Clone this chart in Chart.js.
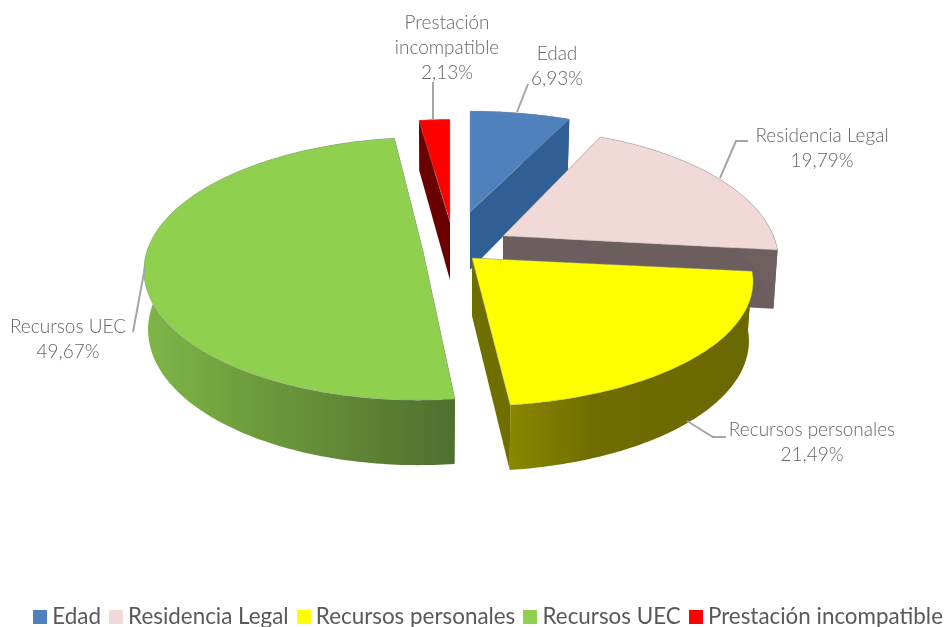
<!DOCTYPE html>
<html><head><meta charset="utf-8">
<style>html,body{margin:0;padding:0;background:#fff;overflow:hidden}canvas{display:block}</style>
<script src="https://cdn.jsdelivr.net/npm/chart.js@4"></script>
</head><body><canvas id="c" width="944" height="627"></canvas>
<script>
const categories = ['Edad','Residencia Legal','Recursos personales','Recursos UEC','Prestación incompatible'];
const values = [6.93,19.79,21.49,49.67,2.13];
const colors = ['#4f81bd','#f0d9d7','#ffff00','#8fd04f','#ff0000'];
const labelLines = [['Edad'],['Residencia Legal'],['Recursos personales'],['Recursos UEC'],['Prestación','incompatible']];

// presentation only: how each slice is pulled out and shaded
const PIE_X = 462, PIE_Y = 245, DEPTH = 58, DEPTH_VAR = 7;
const slices = [
  {dx:8,  dy:-33, a:120, p:.19,  rx:1,   sk:0, face:'#2f5f95', wall:['#2f5f95','#2f5f95','#2f5f95']},
  {dx:41, dy:-9,  a:128, p:.19,  rx:.98, sk:0, face:'#6c5d5e', wall:['#6f6060','#6f6060','#6f6060']},
  {dx:10, dy:13,  a:120, p:.19,  rx:1,   sk:0, face:'#6f6f00', wall:['#8a8600','#6f6d00','#6a6800']},
  {dx:-39,dy:6,   a:129, p:.135, rx:1,   sk:4, face:'#4f6f2e', wall:['#7fb648','#6d9c3c','#4f6f2e']},
  {dx:-12,dy:-23, a:122, p:.19,  rx:1,   sk:0, face:'#6b0000', wall:['#6b0000','#6b0000','#6b0000']}
];
const drawOrder = [0,1,4,3,2];
const labelAt = [[557,54],[822,136],[812,430],[68,327],[447,23]];
const leaders = [
  [[528,84],[517,112]],
  [[748,141],[736,141],[720,178]],
  [[726,437],[713,437],[687,421]],
  [[133,332],[145,267]],
  [[433,82],[433,119]]
];

function pt(i, R, ang, bottom){
  const s = slices[i], u = Math.cos(ang), v = -Math.sin(ang), w = 1 + s.p*v;
  let X = R*s.rx*u/w + s.sk*v, Y = -s.a*v/w;
  if (bottom){ X *= .985; Y += DEPTH - DEPTH_VAR*v; }
  return [PIE_X + s.dx + X, PIE_Y + s.dy + Y];
}
function apex(i, bottom){
  const s = slices[i];
  return [PIE_X + s.dx, PIE_Y + s.dy + (bottom ? DEPTH : 0)];
}
function poly(ctx, pts, fill, stroke){
  ctx.beginPath();
  pts.forEach((p,k)=> k ? ctx.lineTo(p[0],p[1]) : ctx.moveTo(p[0],p[1]));
  ctx.closePath();
  ctx.fillStyle = fill; ctx.fill();
  if (stroke){ ctx.strokeStyle = stroke; ctx.lineWidth = .8; ctx.stroke(); }
}
function arcPts(i, R, a0, a1, bottom){
  const out = [], n = Math.max(8, Math.ceil((a1-a0)*60));
  for (let k=0;k<=n;k++) out.push(pt(i,R,a0+(a1-a0)*k/n,bottom));
  return out;
}
const pie3d = {
  id:'pie3d',
  afterLayout(chart){
    const l = chart.legend;
    if (l){ l.top += 11; l.bottom += 11; l.left += 19; l.right += 19; }
  },
  beforeDatasetsDraw(chart){
    const ctx = chart.ctx, arcs = chart.getDatasetMeta(0).data;
    ctx.save(); ctx.lineJoin = 'round';
    drawOrder.forEach(i=>{
      const arc = arcs[i], R = arc.outerRadius, a0 = arc.startAngle, a1 = arc.endAngle, s = slices[i];
      const top = arcPts(i,R,a0,a1,false), bot = arcPts(i,R,a0,a1,true);
      poly(ctx,[apex(i),top[0],bot[0],apex(i,true)],s.face);
      poly(ctx,[apex(i),top[top.length-1],bot[bot.length-1],apex(i,true)],s.face);
      const xs = top.map(p=>p[0]);
      const g = ctx.createLinearGradient(Math.min(...xs),0,Math.max(...xs),0);
      g.addColorStop(0,s.wall[0]); g.addColorStop(.35,s.wall[1]); g.addColorStop(1,s.wall[2]);
      poly(ctx,top.concat(bot.slice().reverse()),g);
      poly(ctx,[apex(i)].concat(top),arc.options.backgroundColor,'rgba(150,150,150,.5)');
    });
    ctx.restore();
    return false;
  },
  afterDraw(chart){
    const ctx = chart.ctx;
    ctx.save();
    ctx.strokeStyle = '#a6a6a6'; ctx.lineWidth = 2;
    leaders.forEach(l=>{
      ctx.beginPath();
      l.forEach((p,k)=> k ? ctx.lineTo(p[0],p[1]) : ctx.moveTo(p[0],p[1]));
      ctx.stroke();
    });
    ctx.fillStyle = '#666666'; ctx.textAlign = 'center'; ctx.textBaseline = 'middle';
    ctx.font = '300 19px Lato';
    labelLines.forEach((lines,i)=>{
      const [x,y] = labelAt[i];
      const all = lines.concat([values[i].toFixed(2).replace('.',',')+'%']);
      all.forEach((t,k)=> ctx.fillText(t,x,y+k*25));
    });
    ctx.restore();
  }
};
function swatch(col){
  const c = document.createElement('canvas'); c.width = 14; c.height = 14;
  const x = c.getContext('2d'); x.fillStyle = col; x.fillRect(0,0,14,14); return c;
}
new Chart(document.getElementById('c'),{
  type:'pie',
  data:{labels:categories,datasets:[{data:values,backgroundColor:colors,borderWidth:0}]},
  plugins:[pie3d],
  options:{
    responsive:false, animation:false, radius:276, rotation:0,
    layout:{padding:0},
    plugins:{
      tooltip:{enabled:false},
      legend:{position:'bottom',labels:{
        usePointStyle:true, pointStyleWidth:2, padding:14, color:'#595959',
        font:{family:'Lato',size:22.4},
        generateLabels(chart){
          return categories.map((t,i)=>({text:t,fillStyle:colors[i],strokeStyle:colors[i],lineWidth:0,pointStyle:swatch(colors[i]),index:i,fontColor:'#595959'}));
        }
      }}
    }
  }
});
</script></body></html>
